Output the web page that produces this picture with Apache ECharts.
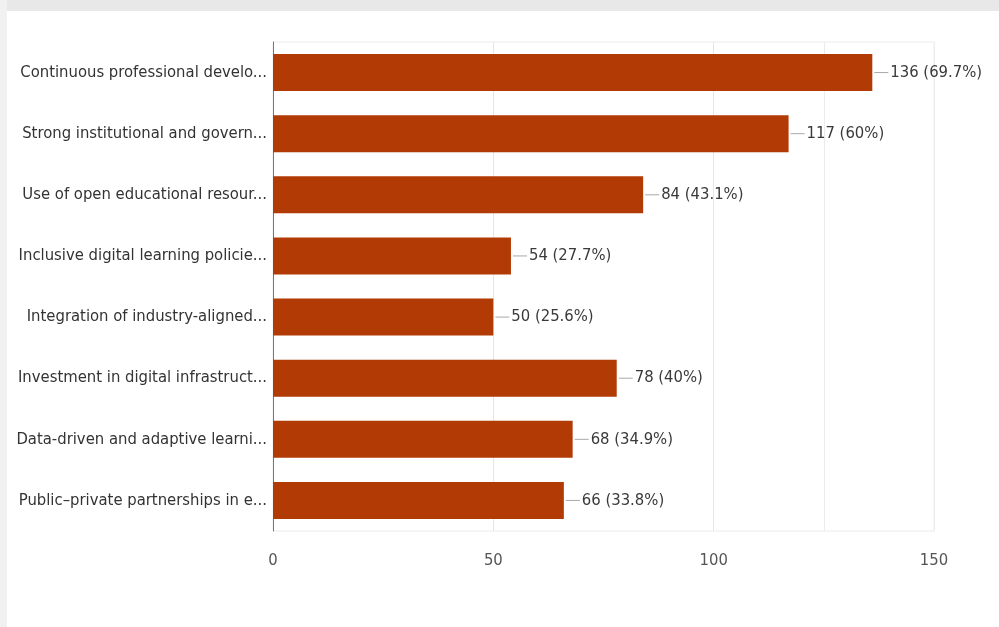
<!DOCTYPE html>
<html>
<head>
<meta charset="utf-8">
<script src="https://cdn.jsdelivr.net/npm/echarts@6/dist/echarts.min.js"></script>
<style>
html,body{margin:0;padding:0;background:#fff;}
#c{width:999px;height:627px;}
</style>
</head>
<body>
<div id="c"></div>
<script>
const categories = [
  "Continuous professional develo...",
  "Strong institutional and govern...",
  "Use of open educational resour...",
  "Inclusive digital learning policie...",
  "Integration of industry-aligned...",
  "Investment in digital infrastruct...",
  "Data-driven and adaptive learni...",
  "Public\u2013private partnerships in e..."
];
const counts = [136, 117, 84, 54, 50, 78, 68, 66];
const percents = ["69.7", "60", "43.1", "27.7", "25.6", "40", "34.9", "33.8"];
const xTicks = [0, 50, 100, 150];

const FONT = "'DejaVu Sans Condensed', 'Liberation Sans Narrow', sans-serif";
const chart = echarts.init(document.getElementById('c'), null, {renderer: 'canvas'});
chart.setOption({
  backgroundColor: '#ffffff',
  animation: false,
  graphic: [
    {type: 'rect', left: 0, top: 0, shape: {width: 999, height: 11}, style: {fill: '#e8e8e8'}, z: 10},
    {type: 'rect', left: 0, top: 0, shape: {width: 7, height: 627}, style: {fill: '#f1f1f1'}, z: 10}
  ],
  grid: {
    left: 273, right: 65, top: 42, bottom: 96,
    show: true, borderColor: '#ececec', borderWidth: 1,
    containLabel: false, outerBoundsMode: 'none'
  },
  xAxis: [{
    type: 'value',
    min: xTicks[0], max: xTicks[xTicks.length - 1], interval: 50,
    axisLine: {show: false},
    axisTick: {show: false},
    axisLabel: {color: '#555', fontFamily: FONT, fontSize: 16.5, margin: 21},
    splitLine: {show: true, lineStyle: {color: '#e6e6e6', width: 1}}
  }, {
    type: 'value', position: 'bottom',
    min: xTicks[0], max: xTicks[xTicks.length - 1], interval: 125,
    axisLine: {show: false}, axisTick: {show: false}, axisLabel: {show: false},
    splitLine: {show: true, lineStyle: {color: '#ececec', width: 1}}
  }],
  yAxis: {
    type: 'category',
    data: categories,
    inverse: true,
    axisLine: {show: true, lineStyle: {color: '#6f7a7a', width: 1}},
    axisTick: {show: false},
    axisLabel: {color: '#333', fontFamily: FONT, fontSize: 16.5, margin: 6}
  },
  series: [{
    type: 'bar',
    data: counts,
    barWidth: 37,
    itemStyle: {color: '#b13a05'},
    label: {
      show: true,
      position: 'right',
      distance: 2,
      formatter: function (p) {
        return '{l|}{t|' + counts[p.dataIndex] + ' (' + percents[p.dataIndex] + '%)}';
      },
      rich: {
        l: {width: 14, height: 1, backgroundColor: '#a8a8a8'},
        t: {color: '#3a3a3a', fontFamily: FONT, fontSize: 16.5, padding: [0, 0, 0, 2]}
      }
    }
  }]
});
</script>
</body>
</html>
